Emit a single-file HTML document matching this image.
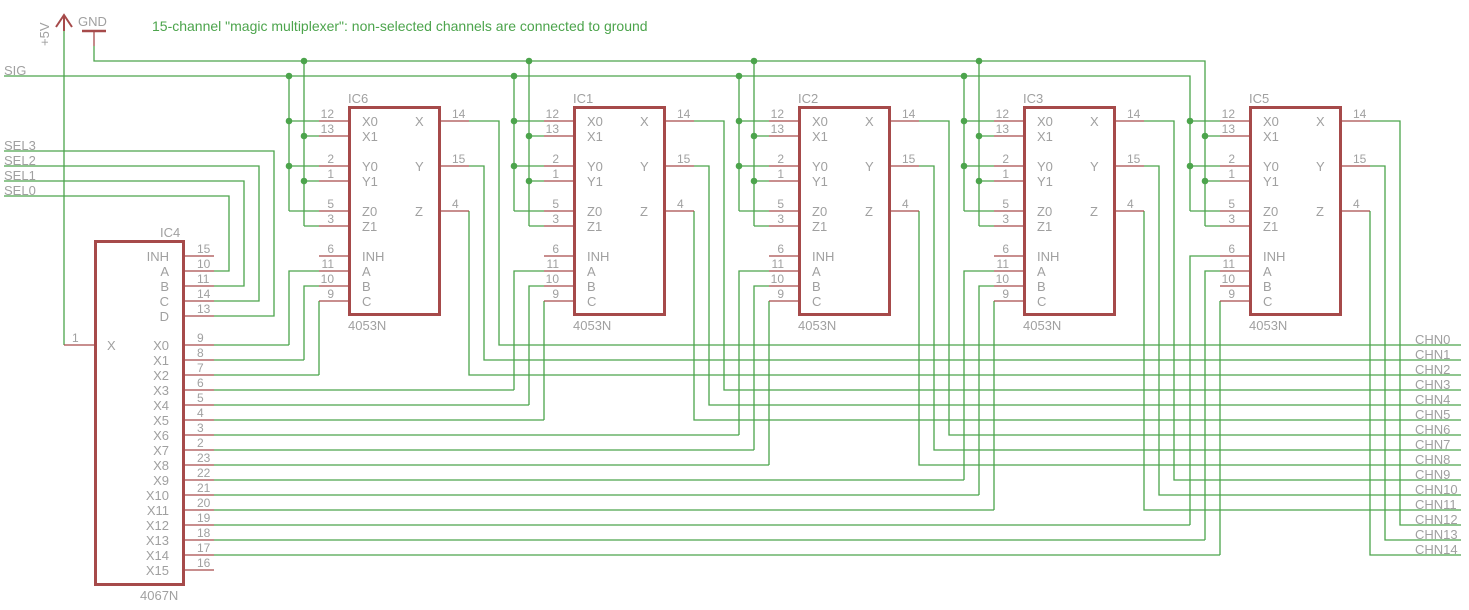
<!DOCTYPE html>
<html><head><meta charset="utf-8"><style>
html,body{margin:0;padding:0;background:#fff;}
svg{display:block;}
text{font-family:"Liberation Sans",sans-serif;fill:#a0a0a0;}
.n{font-size:12px;}
.l{font-size:13px;}
</style></head><body>
<svg width="1469" height="610" viewBox="0 0 1469 610" xmlns="http://www.w3.org/2000/svg">
<g fill="none" stroke="#4ca44c" stroke-width="1.3">
<path d="M64,31V345"/>
<path d="M94,46V61H1205V226"/>
<path d="M4,76H1190V211"/>
<path d="M4,151H274V316H214"/>
<path d="M4,166H259V301H214"/>
<path d="M4,181H244V286H214"/>
<path d="M4,196H229V271H214"/>
<path d="M289,76V211M304,61V226M289,121H319M289,166H319M289,211H319M304,136H319M304,181H319M304,226H319"/>
<path d="M514,76V211M529,61V226M514,121H544M514,166H544M514,211H544M529,136H544M529,181H544M529,226H544"/>
<path d="M739,76V211M754,61V226M739,121H769M739,166H769M739,211H769M754,136H769M754,181H769M754,226H769"/>
<path d="M964,76V211M979,61V226M964,121H994M964,166H994M964,211H994M979,136H994M979,181H994M979,226H994"/>
<path d="M1190,121H1220M1190,166H1220M1190,211H1220M1205,136H1220M1205,181H1220M1205,226H1220"/>
<path d="M319,271H289V345M319,286H304V360M319,301V375"/>
<path d="M544,271H514V390M544,286H529V405M544,301V420"/>
<path d="M769,271H739V435M769,286H754V450M769,301V465"/>
<path d="M994,271H964V480M994,286H979V495M994,301V510"/>
<path d="M1220,256H1190V525M1220,271H1205V540M1220,301V555"/>
<path d="M469,121H499V345H1461M469,166H484V360H1461M469,211V375H1461"/>
<path d="M694,121H724V390H1461M694,166H709V405H1461M694,211V420H1461"/>
<path d="M919,121H949V435H1461M919,166H934V450H1461M919,211V465H1461"/>
<path d="M1144,121H1174V480H1461M1144,166H1159V495H1461M1144,211V510H1461"/>
<path d="M1370,121H1400V525H1461M1370,166H1385V540H1461M1370,211V555H1461"/>
<path d="M214,345H289M214,360H304M214,375H319M214,390H514M214,405H529M214,420H544M214,435H739M214,450H754M214,465H769M214,480H964M214,495H979M214,510H994M214,525H1190M214,540H1205M214,555H1220"/>
</g>
<g fill="#4ca44c">
<circle cx="289" cy="76" r="3.3"/><circle cx="304" cy="61" r="3.3"/><circle cx="289" cy="121" r="3.3"/><circle cx="289" cy="166" r="3.3"/><circle cx="304" cy="136" r="3.3"/><circle cx="304" cy="181" r="3.3"/>
<circle cx="514" cy="76" r="3.3"/><circle cx="529" cy="61" r="3.3"/><circle cx="514" cy="121" r="3.3"/><circle cx="514" cy="166" r="3.3"/><circle cx="529" cy="136" r="3.3"/><circle cx="529" cy="181" r="3.3"/>
<circle cx="739" cy="76" r="3.3"/><circle cx="754" cy="61" r="3.3"/><circle cx="739" cy="121" r="3.3"/><circle cx="739" cy="166" r="3.3"/><circle cx="754" cy="136" r="3.3"/><circle cx="754" cy="181" r="3.3"/>
<circle cx="964" cy="76" r="3.3"/><circle cx="979" cy="61" r="3.3"/><circle cx="964" cy="121" r="3.3"/><circle cx="964" cy="166" r="3.3"/><circle cx="979" cy="136" r="3.3"/><circle cx="979" cy="181" r="3.3"/>
<circle cx="1190" cy="121" r="3.3"/><circle cx="1190" cy="166" r="3.3"/><circle cx="1205" cy="136" r="3.3"/><circle cx="1205" cy="181" r="3.3"/>
</g>
<g fill="none" stroke="#a64a4a" stroke-width="1.3">
<path d="M56,27L64,15L72,27M64,15V31" stroke-width="2"/>
<path d="M82,31H106" stroke-width="2.5"/>
<path d="M94,31V46"/>
<path d="M64,345H95"/>
<path d="M184,256H214M184,271H214M184,286H214M184,301H214M184,316H214"/>
<path d="M184,345H214M184,360H214M184,375H214M184,390H214M184,405H214M184,420H214M184,435H214M184,450H214M184,465H214M184,480H214M184,495H214M184,510H214M184,525H214M184,540H214M184,555H214M184,570H214"/>
<rect x="95.5" y="241.5" width="88" height="343" stroke-width="3"/>
</g>
<g fill="none" stroke="#a64a4a" stroke-width="1.3">
<path d="M319,121H349M319,136H349M319,166H349M319,181H349M319,211H349M319,226H349M319,256H349M319,271H349M319,286H349M319,301H349M440,121H469M440,166H469M440,211H469"/>
<rect x="349.5" y="107.5" width="90" height="207" stroke-width="3"/>
</g>
<g fill="none" stroke="#a64a4a" stroke-width="1.3" transform="translate(225,0)">
<path d="M319,121H349M319,136H349M319,166H349M319,181H349M319,211H349M319,226H349M319,256H349M319,271H349M319,286H349M319,301H349M440,121H469M440,166H469M440,211H469"/>
<rect x="349.5" y="107.5" width="90" height="207" stroke-width="3"/>
</g>
<g fill="none" stroke="#a64a4a" stroke-width="1.3" transform="translate(450,0)">
<path d="M319,121H349M319,136H349M319,166H349M319,181H349M319,211H349M319,226H349M319,256H349M319,271H349M319,286H349M319,301H349M440,121H469M440,166H469M440,211H469"/>
<rect x="349.5" y="107.5" width="90" height="207" stroke-width="3"/>
</g>
<g fill="none" stroke="#a64a4a" stroke-width="1.3" transform="translate(675,0)">
<path d="M319,121H349M319,136H349M319,166H349M319,181H349M319,211H349M319,226H349M319,256H349M319,271H349M319,286H349M319,301H349M440,121H469M440,166H469M440,211H469"/>
<rect x="349.5" y="107.5" width="90" height="207" stroke-width="3"/>
</g>
<g fill="none" stroke="#a64a4a" stroke-width="1.3" transform="translate(901,0)">
<path d="M319,121H349M319,136H349M319,166H349M319,181H349M319,211H349M319,226H349M319,256H349M319,271H349M319,286H349M319,301H349M440,121H469M440,166H469M440,211H469"/>
<rect x="349.5" y="107.5" width="90" height="207" stroke-width="3"/>
</g>

<text x="152" y="31" style="font-size:14px;fill:#4ca44c">15-channel "magic multiplexer": non-selected channels are connected to ground</text>
<text class="l" x="78" y="26">GND</text>
<text class="l" transform="translate(49,46) rotate(-90)">+5V</text>
<text class="l" x="4" y="75">SIG</text>
<text class="l" x="4" y="150">SEL3</text>
<text class="l" x="4" y="165">SEL2</text>
<text class="l" x="4" y="180">SEL1</text>
<text class="l" x="4" y="195">SEL0</text>

<text class="l" x="160" y="237">IC4</text>
<text class="l" x="140" y="600">4067N</text>
<text class="n" x="72" y="342">1</text>
<text class="l" x="107" y="350">X</text>
<g class="l" text-anchor="end">
<text x="169" y="261">INH</text><text x="169" y="276">A</text><text x="169" y="291">B</text><text x="169" y="306">C</text><text x="169" y="321">D</text>
<text x="169" y="350">X0</text><text x="169" y="365">X1</text><text x="169" y="380">X2</text><text x="169" y="395">X3</text><text x="169" y="410">X4</text><text x="169" y="425">X5</text><text x="169" y="440">X6</text><text x="169" y="455">X7</text><text x="169" y="470">X8</text><text x="169" y="485">X9</text><text x="169" y="500">X10</text><text x="169" y="515">X11</text><text x="169" y="530">X12</text><text x="169" y="545">X13</text><text x="169" y="560">X14</text><text x="169" y="575">X15</text>
</g>
<g class="n">
<text x="197" y="253">15</text><text x="197" y="268">10</text><text x="197" y="283">11</text><text x="197" y="298">14</text><text x="197" y="313">13</text>
<text x="197" y="342">9</text><text x="197" y="357">8</text><text x="197" y="372">7</text><text x="197" y="387">6</text><text x="197" y="402">5</text><text x="197" y="417">4</text><text x="197" y="432">3</text><text x="197" y="447">2</text><text x="197" y="462">23</text><text x="197" y="477">22</text><text x="197" y="492">21</text><text x="197" y="507">20</text><text x="197" y="522">19</text><text x="197" y="537">18</text><text x="197" y="552">17</text><text x="197" y="567">16</text>
</g>

<g>
<text class="l" x="348" y="103">IC6</text><text class="l" x="348" y="330">4053N</text>
<g class="l"><text x="362" y="126">X0</text><text x="362" y="141">X1</text><text x="362" y="171">Y0</text><text x="362" y="186">Y1</text><text x="362" y="216">Z0</text><text x="362" y="231">Z1</text><text x="362" y="261">INH</text><text x="362" y="276">A</text><text x="362" y="291">B</text><text x="362" y="306">C</text><text x="415" y="126">X</text><text x="415" y="171">Y</text><text x="415" y="216">Z</text></g>
<g class="n" text-anchor="end"><text x="334" y="118">12</text><text x="334" y="133">13</text><text x="334" y="163">2</text><text x="334" y="178">1</text><text x="334" y="208">5</text><text x="334" y="223">3</text><text x="334" y="253">6</text><text x="334" y="268">11</text><text x="334" y="283">10</text><text x="334" y="298">9</text></g>
<g class="n"><text x="452" y="118">14</text><text x="452" y="163">15</text><text x="452" y="208">4</text></g>
</g>
<g transform="translate(225,0)">
<text class="l" x="348" y="103">IC1</text><text class="l" x="348" y="330">4053N</text>
<g class="l"><text x="362" y="126">X0</text><text x="362" y="141">X1</text><text x="362" y="171">Y0</text><text x="362" y="186">Y1</text><text x="362" y="216">Z0</text><text x="362" y="231">Z1</text><text x="362" y="261">INH</text><text x="362" y="276">A</text><text x="362" y="291">B</text><text x="362" y="306">C</text><text x="415" y="126">X</text><text x="415" y="171">Y</text><text x="415" y="216">Z</text></g>
<g class="n" text-anchor="end"><text x="334" y="118">12</text><text x="334" y="133">13</text><text x="334" y="163">2</text><text x="334" y="178">1</text><text x="334" y="208">5</text><text x="334" y="223">3</text><text x="334" y="253">6</text><text x="334" y="268">11</text><text x="334" y="283">10</text><text x="334" y="298">9</text></g>
<g class="n"><text x="452" y="118">14</text><text x="452" y="163">15</text><text x="452" y="208">4</text></g>
</g>
<g transform="translate(450,0)">
<text class="l" x="348" y="103">IC2</text><text class="l" x="348" y="330">4053N</text>
<g class="l"><text x="362" y="126">X0</text><text x="362" y="141">X1</text><text x="362" y="171">Y0</text><text x="362" y="186">Y1</text><text x="362" y="216">Z0</text><text x="362" y="231">Z1</text><text x="362" y="261">INH</text><text x="362" y="276">A</text><text x="362" y="291">B</text><text x="362" y="306">C</text><text x="415" y="126">X</text><text x="415" y="171">Y</text><text x="415" y="216">Z</text></g>
<g class="n" text-anchor="end"><text x="334" y="118">12</text><text x="334" y="133">13</text><text x="334" y="163">2</text><text x="334" y="178">1</text><text x="334" y="208">5</text><text x="334" y="223">3</text><text x="334" y="253">6</text><text x="334" y="268">11</text><text x="334" y="283">10</text><text x="334" y="298">9</text></g>
<g class="n"><text x="452" y="118">14</text><text x="452" y="163">15</text><text x="452" y="208">4</text></g>
</g>
<g transform="translate(675,0)">
<text class="l" x="348" y="103">IC3</text><text class="l" x="348" y="330">4053N</text>
<g class="l"><text x="362" y="126">X0</text><text x="362" y="141">X1</text><text x="362" y="171">Y0</text><text x="362" y="186">Y1</text><text x="362" y="216">Z0</text><text x="362" y="231">Z1</text><text x="362" y="261">INH</text><text x="362" y="276">A</text><text x="362" y="291">B</text><text x="362" y="306">C</text><text x="415" y="126">X</text><text x="415" y="171">Y</text><text x="415" y="216">Z</text></g>
<g class="n" text-anchor="end"><text x="334" y="118">12</text><text x="334" y="133">13</text><text x="334" y="163">2</text><text x="334" y="178">1</text><text x="334" y="208">5</text><text x="334" y="223">3</text><text x="334" y="253">6</text><text x="334" y="268">11</text><text x="334" y="283">10</text><text x="334" y="298">9</text></g>
<g class="n"><text x="452" y="118">14</text><text x="452" y="163">15</text><text x="452" y="208">4</text></g>
</g>
<g transform="translate(901,0)">
<text class="l" x="348" y="103">IC5</text><text class="l" x="348" y="330">4053N</text>
<g class="l"><text x="362" y="126">X0</text><text x="362" y="141">X1</text><text x="362" y="171">Y0</text><text x="362" y="186">Y1</text><text x="362" y="216">Z0</text><text x="362" y="231">Z1</text><text x="362" y="261">INH</text><text x="362" y="276">A</text><text x="362" y="291">B</text><text x="362" y="306">C</text><text x="415" y="126">X</text><text x="415" y="171">Y</text><text x="415" y="216">Z</text></g>
<g class="n" text-anchor="end"><text x="334" y="118">12</text><text x="334" y="133">13</text><text x="334" y="163">2</text><text x="334" y="178">1</text><text x="334" y="208">5</text><text x="334" y="223">3</text><text x="334" y="253">6</text><text x="334" y="268">11</text><text x="334" y="283">10</text><text x="334" y="298">9</text></g>
<g class="n"><text x="452" y="118">14</text><text x="452" y="163">15</text><text x="452" y="208">4</text></g>
</g>

<g class="l">
<text x="1415" y="344">CHN0</text><text x="1415" y="359">CHN1</text><text x="1415" y="374">CHN2</text><text x="1415" y="389">CHN3</text><text x="1415" y="404">CHN4</text><text x="1415" y="419">CHN5</text><text x="1415" y="434">CHN6</text><text x="1415" y="449">CHN7</text><text x="1415" y="464">CHN8</text><text x="1415" y="479">CHN9</text><text x="1415" y="494">CHN10</text><text x="1415" y="509">CHN11</text><text x="1415" y="524">CHN12</text><text x="1415" y="539">CHN13</text><text x="1415" y="554">CHN14</text>
</g>
</svg>
</body></html>
